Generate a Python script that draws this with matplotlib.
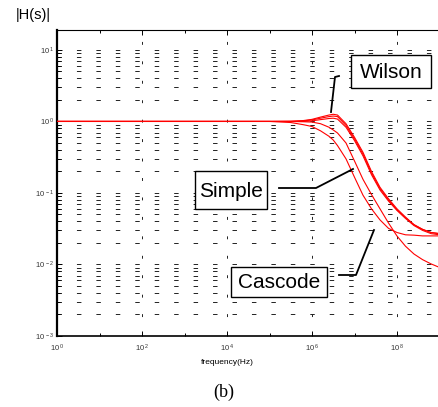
import matplotlib
matplotlib.use('Agg')
import matplotlib.pyplot as plt
from matplotlib.lines import Line2D
from matplotlib.patches import Rectangle
from matplotlib.ticker import FixedLocator, LogLocator, NullFormatter

plt.rcParams['font.family'] = ['Liberation Sans', 'DejaVu Sans']
plt.rcParams['mathtext.default'] = 'regular'

# frequency points (decade exponents) and |H|
log_f = [0, 5, 5.5, 5.8, 6.0, 6.2, 6.4, 6.5, 6.6, 6.8, 7.0, 7.2, 7.4, 7.6, 7.8,
         8.0, 8.2, 8.4, 8.6, 8.8, 9.0]
wilson_a = [1.0, 1.0, 1.005, 1.03, 1.07, 1.15, 1.23, 1.26, 1.23, 0.93, 0.60, 0.37,
            0.20, 0.12, 0.083, 0.060, 0.046, 0.036, 0.031, 0.028, 0.027]
wilson_b = [1.0, 1.0, 1.003, 1.02, 1.05, 1.11, 1.17, 1.19, 1.17, 0.88, 0.57, 0.35,
            0.19, 0.115, 0.080, 0.058, 0.045, 0.036, 0.031, 0.028, 0.027]
wilson_c = [1.0, 1.0, 1.0, 1.0, 1.02, 1.06, 1.10, 1.11, 1.08, 0.83, 0.54, 0.33,
            0.18, 0.11, 0.077, 0.057, 0.044, 0.035, 0.030, 0.027, 0.026]
cascode = [1.0, 1.0, 1.0, 0.99, 0.98, 0.93, 0.83, 0.76, 0.69, 0.50, 0.28, 0.155,
           0.095, 0.060, 0.038, 0.025, 0.018, 0.014, 0.0117, 0.0102, 0.0091]
simple = [1.0, 1.0, 0.966, 0.90, 0.85, 0.74, 0.62, 0.55, 0.46, 0.30, 0.166, 0.093,
          0.060, 0.042, 0.032, 0.028, 0.026, 0.0257, 0.0251, 0.0251, 0.0251]

x_major = [1e0, 1e2, 1e4, 1e6, 1e8]
x_minor = [1e1, 1e3, 1e5, 1e7]
x_labels = [r'$10^{\,0}$', r'$10^{\,2}$', r'$10^{\,4}$', r'$10^{\,6}$', r'$10^{\,8}$']
y_major = [1e-3, 1e-2, 1e-1, 1e0, 1e1]
y_labels = [r'$10^{\,-3}$', r'$10^{\,-2}$', r'$10^{\,-1}$', r'$10^{\,0}$', r'$10^{\,1}$']

W, H = 438, 407


def fx(x):
    return x / W


def fy(y):
    return 1 - y / H


freq = [10 ** e for e in log_f]

fig = plt.figure(figsize=(4.38, 4.07), dpi=100)
ax = fig.add_axes([fx(57), fy(336), 382.5 / W, 306 / H])
for vals in [wilson_a, wilson_b, wilson_c, cascode, simple]:
    ax.plot(freq, vals, color='#ff0000', lw=0.8, zorder=3)

ax.set_xscale('log')
ax.set_yscale('log')
ax.set_xlim(1, 1e9)
ax.set_ylim(1e-3, 19)

ax.xaxis.set_major_locator(FixedLocator(x_major))
ax.xaxis.set_minor_locator(FixedLocator(x_minor))
ax.set_xticklabels(x_labels)
ax.xaxis.set_minor_formatter(NullFormatter())
ax.yaxis.set_major_locator(FixedLocator(y_major))
ax.yaxis.set_minor_locator(LogLocator(base=10, subs=range(2, 10)))
ax.set_yticklabels(y_labels)
ax.yaxis.set_minor_formatter(NullFormatter())

ax.tick_params(which='both', direction='in', top=True, right=False,
               labelsize=5.5, labelcolor='#333333', width=0.7)
ax.tick_params(which='major', length=3.5)
ax.tick_params(which='minor', length=2.5)
ax.tick_params(axis='x', pad=5)
ax.tick_params(axis='y', pad=2)

# dash lengths are scaled by the line width
ax.grid(True, which='both', axis='y', color='#222222', lw=0.7, linestyle=(0, (4.6, 15.4)))
ax.grid(True, which='major', axis='x', color='#222222', lw=0.7, linestyle=(0, (3.0, 17.0)))

ax.spines['right'].set_visible(False)
ax.spines['left'].set_linewidth(1.6)
ax.spines['bottom'].set_linewidth(1.2)
ax.spines['top'].set_linewidth(0.8)

# labels
fig.text(fx(16), fy(15.5), '|H(s)|', fontsize=10.5, ha='left', va='center')
fig.text(fx(227), fy(362), 'frequency(Hz)', fontsize=6, ha='center', va='center')
fig.text(fx(224), fy(392), '(b)', fontsize=13, ha='center', va='center',
         family=['Liberation Serif', 'DejaVu Serif'])

# callout boxes with leader lines
boxes = [('Wilson', 351, 55, 431, 88), ('Simple', 195, 171, 267, 209),
         ('Cascode', 231, 267, 327, 297)]
for name, x0, y0, x1, y1 in boxes:
    fig.add_artist(Rectangle((fx(x0), fy(y1)), (x1 - x0) / W, (y1 - y0) / H,
                             transform=fig.transFigure, facecolor='white',
                             edgecolor='black', lw=1.0, zorder=5))
    fig.text(fx((x0 + x1) / 2), fy((y0 + y1) / 2 + 1), name, fontsize=15,
             ha='center', va='center', zorder=6)

leaders = [([331, 335, 339], [112, 77, 76]),
           ([279, 316, 353], [188, 188, 169]),
           ([339, 356, 374], [275, 275, 230])]
for xs, ys in leaders:
    fig.add_artist(Line2D([fx(v) for v in xs], [fy(v) for v in ys],
                          transform=fig.transFigure, color='black', lw=1.3, zorder=5))

fig.savefig('out.png', dpi=100)
